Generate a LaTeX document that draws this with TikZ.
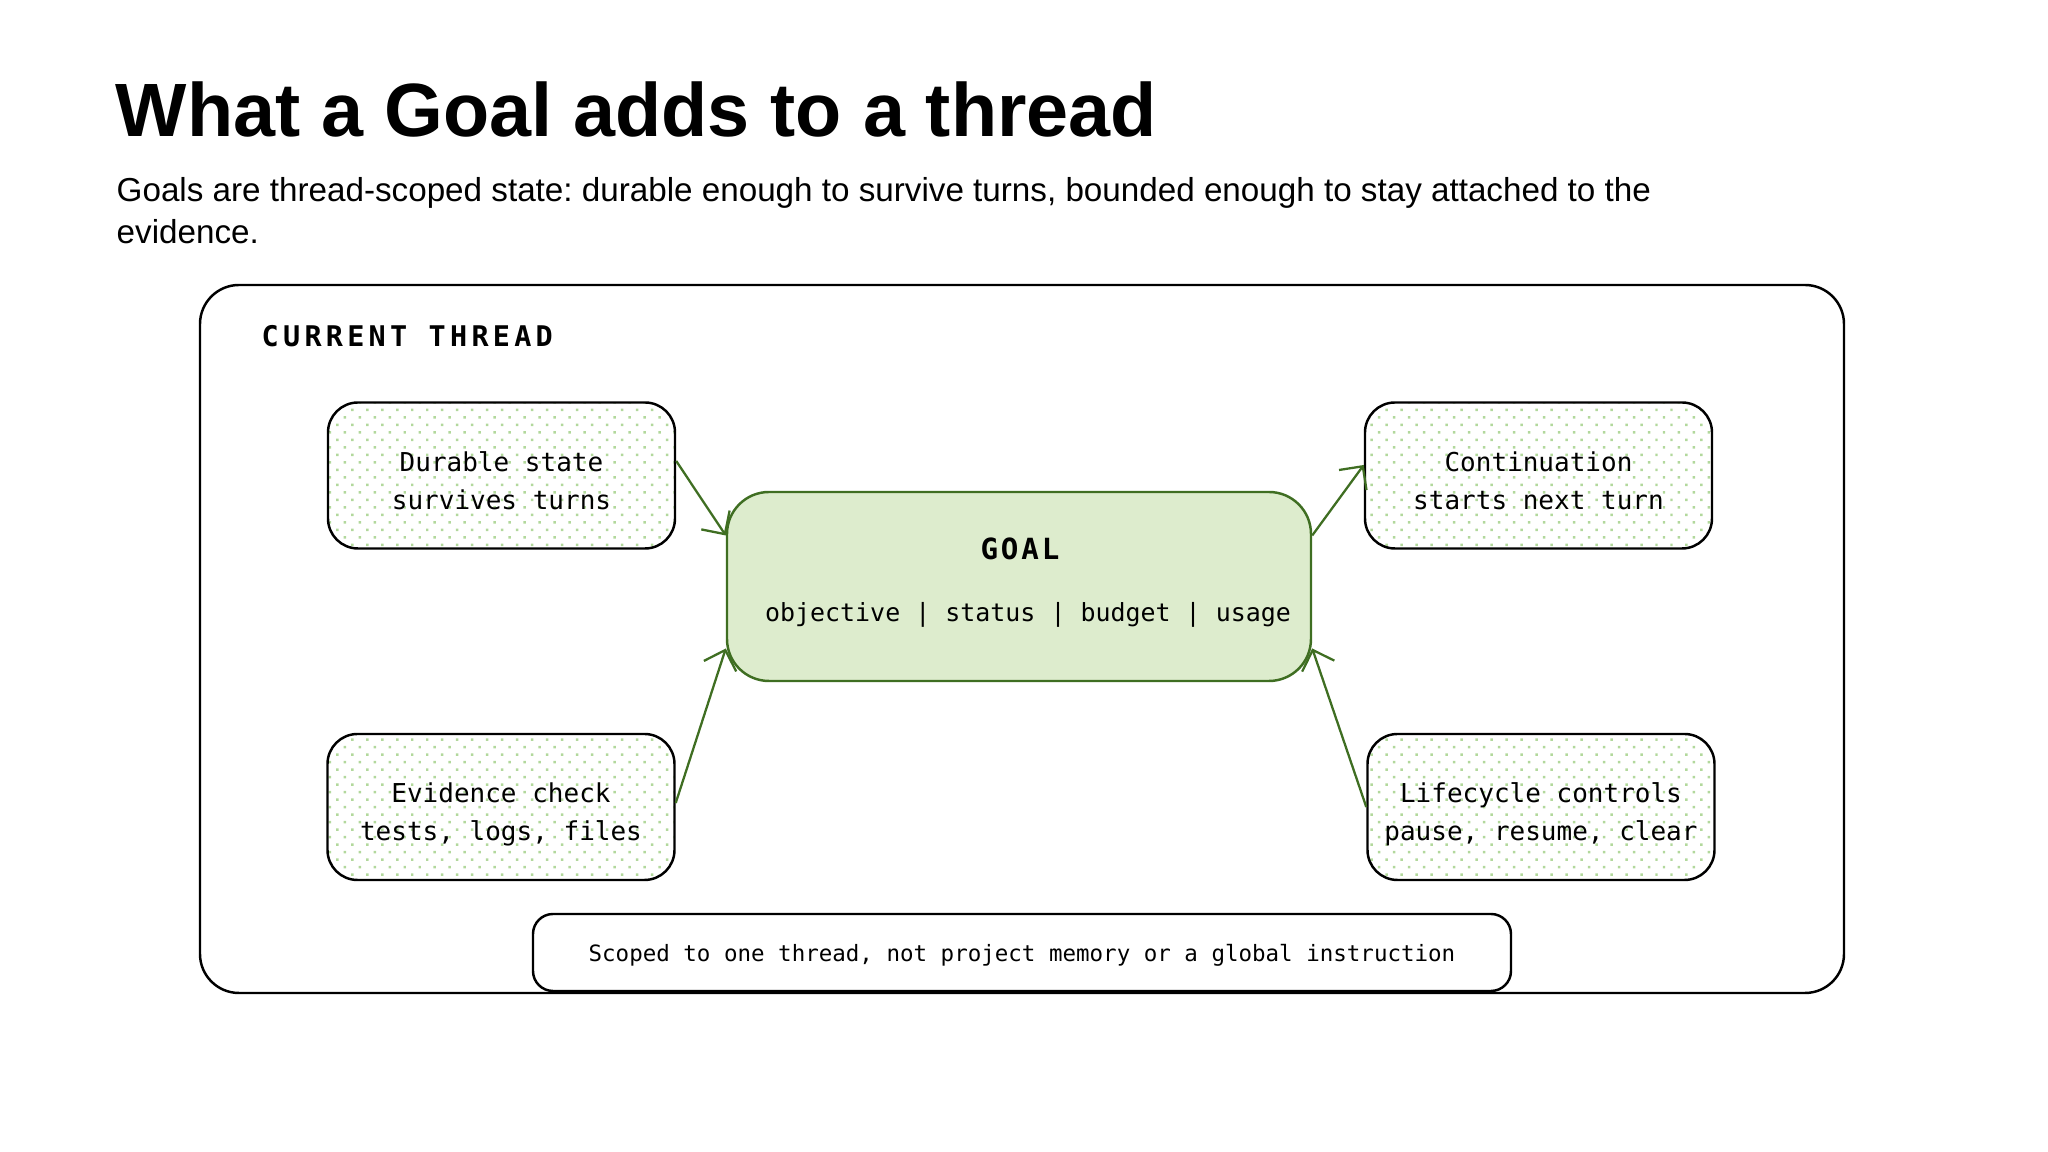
\documentclass[tikz,border=0pt]{standalone}
\usepackage{fontspec}
\setmainfont{Liberation Sans}
\setmonofont{DejaVu Sans Mono}
\newfontfamily\trackmono[LetterSpace=10]{DejaVu Sans Mono}
\newfontfamily\labelmono[LetterSpace=15]{DejaVu Sans Mono}
\usetikzlibrary{arrows.meta,patterns.meta}

\definecolor{goalgreen}{RGB}{221,236,205}
\definecolor{edgegreen}{RGB}{63,110,34}
\definecolor{dotgreen}{RGB}{178,216,156}

\begin{document}
\frenchspacing
\begin{tikzpicture}[
          card/.style={draw=black,line width=0.7pt,rounded corners=0.3cm,
            pattern={Dots[distance=0.106cm,angle=45,radius=0.5pt]},pattern color=dotgreen,
            minimum width=3.47cm,minimum height=1.46cm,inner sep=0pt,align=center,
            text height=20.9pt,text depth=1.7pt,
            font=\fontsize{7.4}{10.8}\selectfont\ttfamily},
          goalbox/.style={draw=edgegreen,fill=goalgreen,line width=0.7pt,
            rounded corners=0.42cm,minimum width=5.84cm,minimum height=1.89cm,inner sep=0pt},
          link/.style={draw=edgegreen,line width=0.65pt,
            -{Straight Barb[length=1.7mm,width=3.4mm]}}
          ]
          \useasboundingbox (0,0) rectangle (20.48,11.52);
          % heading
          \node[anchor=base west,inner sep=0pt,font=\fontsize{21.5}{26}\selectfont\bfseries]
            (title) at (1.15,10.15) {What a Goal adds to a thread};
          \node[anchor=north west,align=left,inner sep=0pt,font=\fontsize{9.45}{11.95}\selectfont]
            (lead) at (1.16,9.75) {Goals are thread-scoped state: durable enough to survive turns, bounded enough to stay attached to the\\evidence.};
          % thread frame
          \draw[line width=0.7pt,rounded corners=0.39cm] (2.00,1.59) rectangle (18.44,8.67);
          \node[anchor=west,inner sep=0pt,font=\fontsize{8.1}{10}\selectfont\labelmono\bfseries]
            (threadlbl) at (2.61,8.16) {CURRENT THREAD};
          % goal in the middle
          \node[goalbox] (goal) at (10.19,5.655) {};
          \node[font=\fontsize{8.3}{10}\selectfont\trackmono\bfseries] (goalname) at (10.20,6.03) {GOAL};
          \node[font=\fontsize{7.1}{9}\selectfont\ttfamily] (fields) at (10.28,5.37)
            {objective | status | budget | usage};
          % cards round it
          \node[card] (durable)  at (5.015,6.765) {Durable state\\survives turns};
          \node[card] (carry)    at (15.385,6.765) {Continuation\\starts next turn};
          \node[card] (evidence) at (5.01,3.45)   {Evidence check\\tests, logs, files};
          \node[card] (life)     at (15.41,3.45)  {Lifecycle controls\\pause, resume, clear};
          \draw[link] ([yshift=0.145cm]durable.east) -- ([yshift=0.51cm]goal.west);
          \draw[link] ([yshift=0.51cm]goal.east) -- ([yshift=0.105cm]carry.west);
          \draw[link] ([yshift=0.04cm]evidence.east) -- ([yshift=-0.62cm]goal.west);
          \draw[link] (life.west) -- ([yshift=-0.62cm]goal.east);
          % scope note on the bottom edge
          \node[draw,fill=white,line width=0.7pt,rounded corners=0.2cm,minimum width=9.78cm,
            minimum height=0.77cm,text height=6.6pt,text depth=1.5pt,
            font=\fontsize{6.4}{8}\selectfont\ttfamily]
            (scope) at (10.22,1.995) {Scoped to one thread, not project memory or a global instruction};
        \end{tikzpicture}
\end{document}
